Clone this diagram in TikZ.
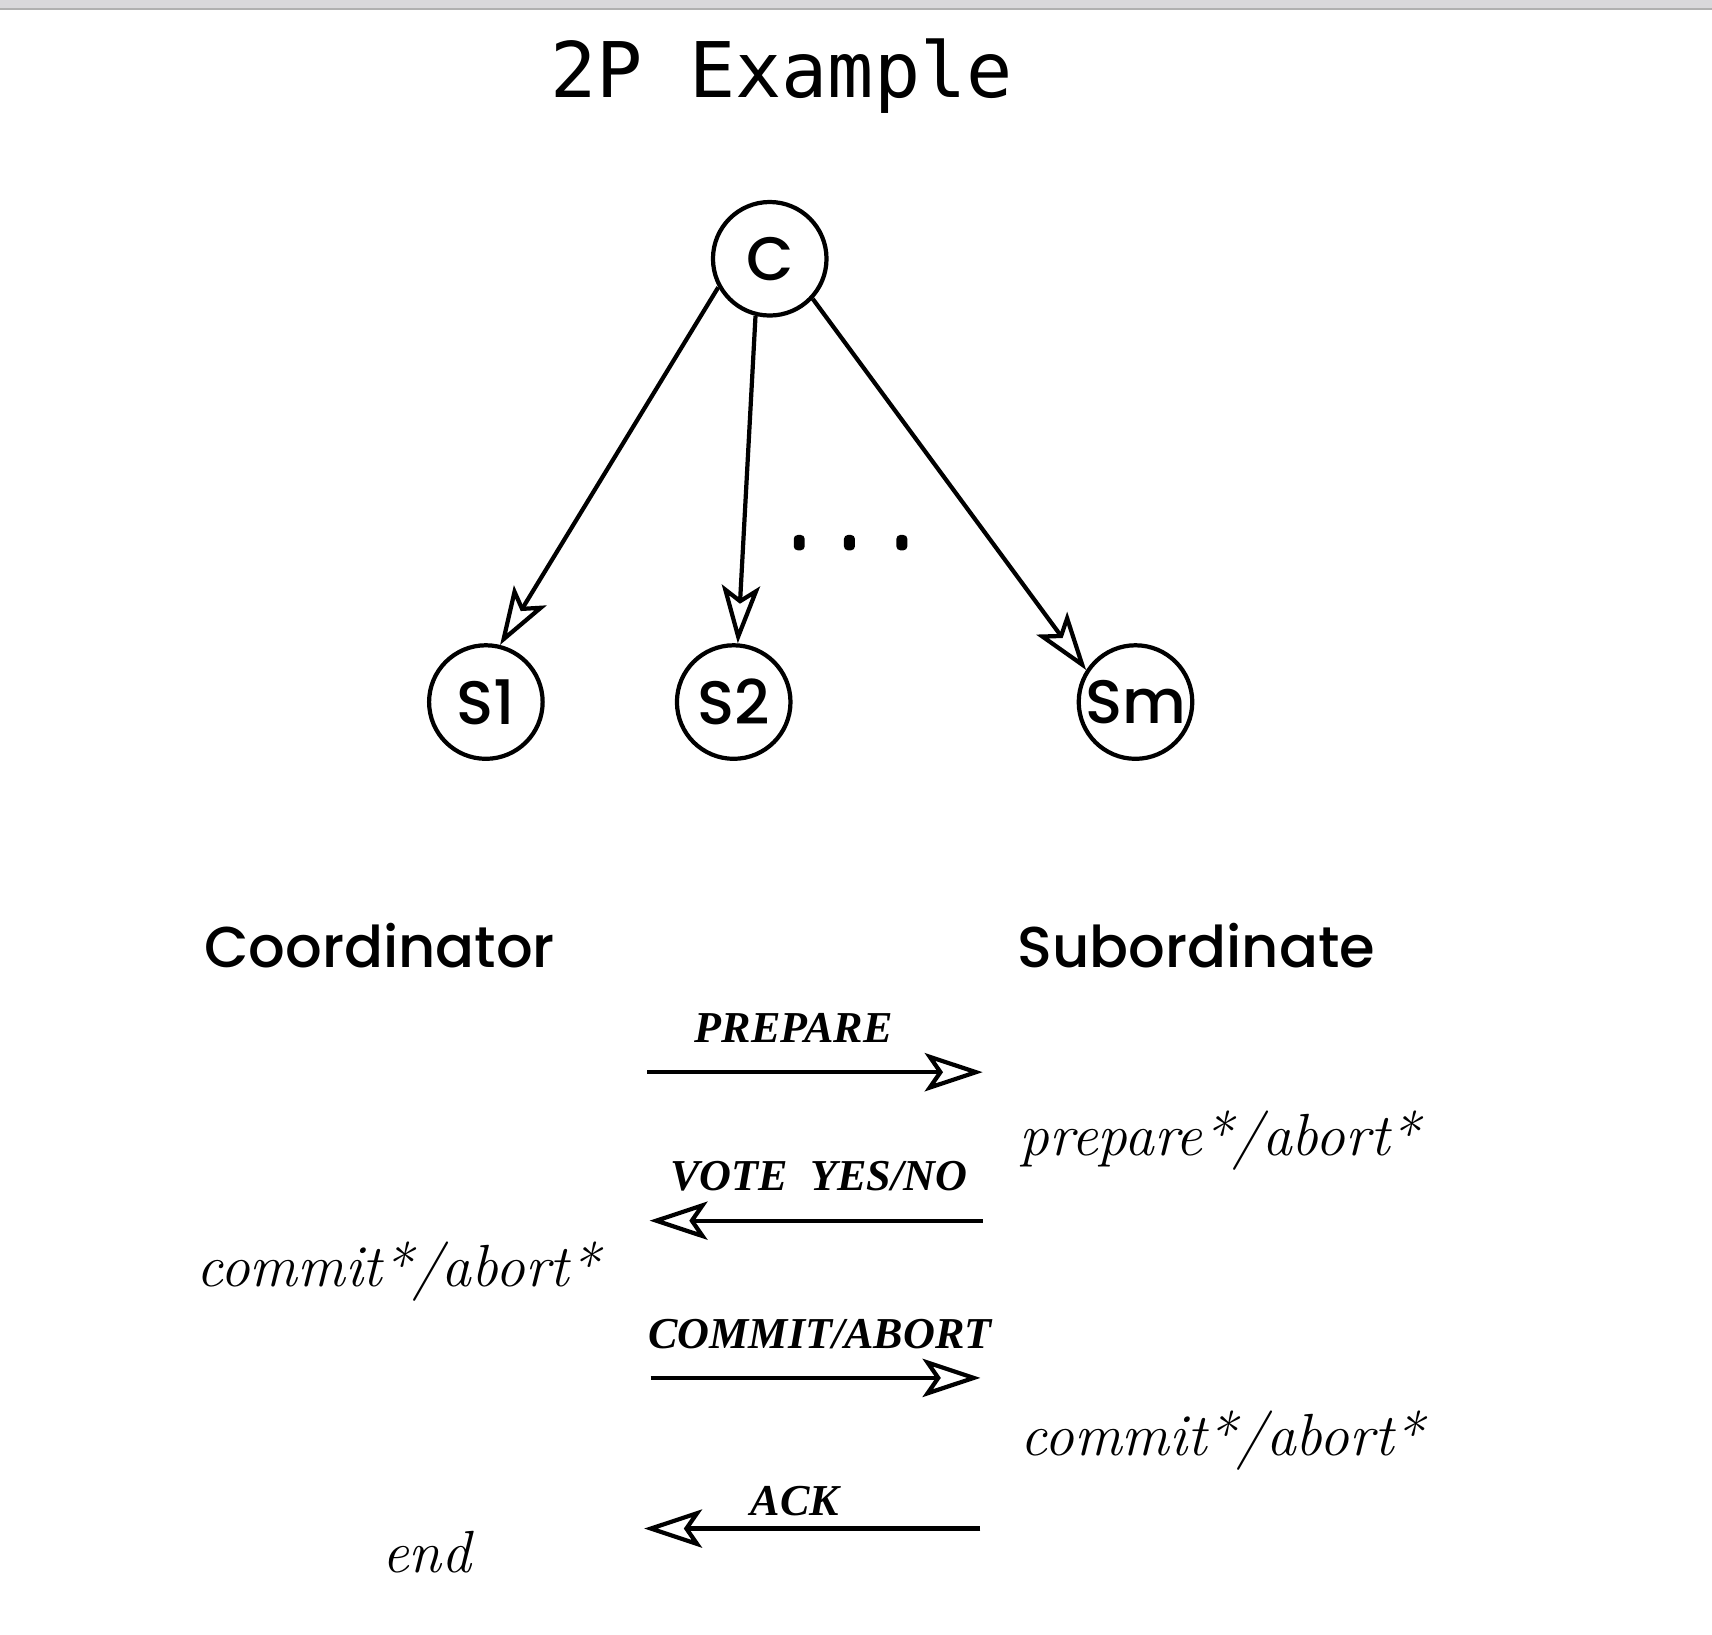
\documentclass[tikz,border=0pt]{standalone}
\usepackage{fontspec}
\setsansfont{Poppins}[UprightFont=* Medium]
\newfontfamily\msgfont{Liberation Serif}
\newfontfamily\titlefont{DejaVu Sans Mono}
\newcommand\handfont{\rmfamily\itshape\addfontfeatures{FakeBold=1.4}}
\usetikzlibrary{arrows.meta}
\usetikzlibrary{positioning}
\definecolor{bargray}{RGB}{217,216,219}
\definecolor{barline}{RGB}{176,176,176}

\begin{document}
\begin{tikzpicture}[x=0.1mm, y=-0.1mm, line width=1.1pt,
		proc/.style={circle, draw, minimum size=1.04cm, inner sep=0pt, font=\sffamily\fontsize{16}{16}\selectfont},
		msg/.style={-{Stealth[open, length=0.53cm, width=0.35cm, inset=0.12cm]}},
		msglabel/.style={inner sep=0pt, anchor=base, font=\msgfont\bfseries\itshape\fontsize{11.5}{11.5}\selectfont},
		role/.style={inner sep=0pt, anchor=base west, font=\sffamily\fontsize{15}{15}\selectfont},
		state/.style={inner sep=0pt, anchor=base west, font=\handfont\fontsize{15.5}{15.5}\selectfont}]
			\useasboundingbox (0,0) rectangle (1568,1497);
			\fill[bargray] (0,0) rectangle (1568,8);
			\draw[barline, line width=0.6pt] (0,8.5) -- (1568,8.5);

			\node[inner sep=0pt, anchor=base, font=\titlefont\fontsize{20}{20}\selectfont] (title) at (716,89) {2P Example};

			% the tree
			\node[proc] (c) at (705,237) {C};
			\node[proc] (s1) at (445,643) {S1};
			\node[proc] (s2) at (672,643) {S2};
			\node[proc] (sm) at (1040,643) {Sm};
			\foreach \from/\to in {209/s1.76, 256/s2.86, 317/sm.147}
			{
				\draw[msg] (c.\from) -- (\to);
			}
			\foreach \x in {732, 778, 826}
			{
				\fill[rounded corners=1pt] (\x-5,490) rectangle (\x+5,504);
			}

			% the protocol
			\node[role] (coord) at (185,886) {Coordinator};
			\node[role] (subord) at (930,886) {Subordinate};
			\foreach \i/\y/\xa/\xb in {1/982/593/900, 2/1118/900/595, 3/1262/596/898, 4/1400/898/590}
			{
				\coordinate (from\i) at (\xa,\y);
				\coordinate (to\i) at (\xb,\y);
				\draw[msg] (from\i) -- (to\i);
			}
			\node[msglabel] (prepare) at (727,955) {PREPARE};
			\node[msglabel] (vote) at (750,1090) {VOTE\ \ YES/NO};
			\node[msglabel] (commitmsg) at (751,1235) {COMMIT/ABORT};
			\node[msglabel] (ack) at (728,1388) {ACK};
			\node[state] (subprep) at (932,1058) {prepare*/abort*};
			\node[state] (coordcommit) at (178,1178) {commit*/abort*};
			\node[state] (subcommit) at (933,1333) {commit*/abort*};
			\node[state] (coordend) at (348,1440) {end};
		\end{tikzpicture}
\end{document}
